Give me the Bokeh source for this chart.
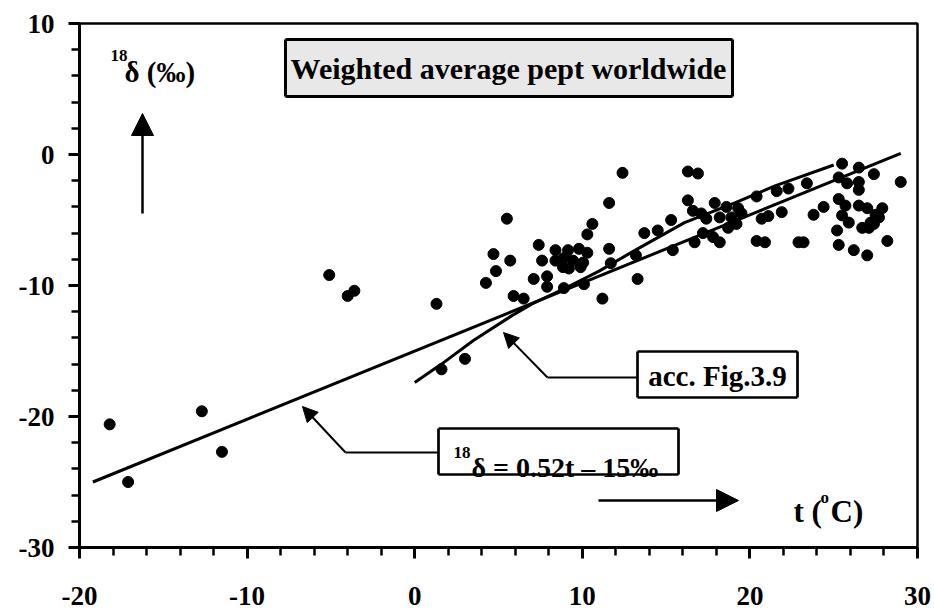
from bokeh.plotting import figure
from bokeh.models import (Range1d, SingleIntervalTicker, Label, BoxAnnotation,
                          Arrow, NormalHead, PrintfTickFormatter)
from bokeh.embed import file_html
from bokeh.resources import INLINE

# ---- data ----
temp_c = [-18.2, -17.1, -12.7, -11.5, -5.1, -4.0, -3.6, 1.3, 1.6, 3.0,
          4.7, 5.7, 4.85, 4.25, 5.5, 5.9, 6.5, 7.4, 7.6, 7.1, 7.9, 7.9,
          8.4, 9.15, 9.8, 10.3, 8.4, 8.9, 9.45, 10.05, 8.85, 9.9, 9.2,
          8.9, 10.1, 11.2, 10.6, 10.3, 11.6, 11.7, 11.6, 12.4, 13.3, 13.2,
          13.7, 14.5, 15.3, 15.4, 16.3, 16.9, 16.3, 16.6, 17.1, 17.4, 17.9,
          18.2, 18.6, 18.9, 19.3, 19.5, 19.2, 18.7, 17.8, 18.2, 16.7, 17.2,
          20.4, 20.7, 21.1, 20.4, 20.9, 21.6, 22.3, 21.9, 23.4, 23.8, 24.4,
          22.9, 23.2, 25.5, 26.5, 27.4, 29.0, 25.3, 25.8, 26.5, 26.5, 25.3,
          25.7, 25.5, 26.5, 27.0, 27.9, 27.7, 27.4, 27.1, 26.7, 25.9, 25.2,
          25.3, 26.2, 27.0, 28.2, 27.2, 27.5]
delta18 = [-20.6, -25.0, -19.6, -22.7, -9.2, -10.8, -10.4, -11.4, -16.4, -15.6,
           -7.6, -8.1, -8.9, -9.8, -4.9, -10.8, -11.0, -6.9, -8.1, -9.5, -9.3, -10.1,
           -7.3, -7.3, -7.2, -7.5, -8.1, -7.9, -8.1, -8.25, -8.6, -8.6, -8.7,
           -10.2, -9.9, -11.0, -5.3, -6.1, -7.2, -8.3, -3.7, -1.4, -9.5, -7.7,
           -6.0, -5.8, -5.0, -7.3, -1.3, -1.45, -3.5, -4.3, -4.5, -4.9, -3.7,
           -4.8, -4.0, -4.8, -4.1, -4.5, -5.3, -5.6, -6.3, -6.7, -6.7, -6.0,
           -3.2, -4.9, -4.7, -6.6, -6.7, -2.8, -2.6, -4.4, -2.2, -4.6, -4.0,
           -6.7, -6.7, -0.7, -1.0, -1.5, -2.1, -1.75, -2.2, -2.1, -2.7, -3.4,
           -3.9, -4.65, -3.9, -4.1, -4.1, -4.8, -5.3, -5.6, -5.6, -5.2, -5.8,
           -6.9, -7.3, -7.7, -6.6, -5.2, -4.6]

fit_t = [-19.2, 29.0]          # 18d = 0.52 t - 15
fit_d = [-25.0, 0.08]

fig39_t = [0.0, 1.6, 3.5, 5.8, 7.0, 9.0, 11.0, 13.3, 16.1, 19.1, 21.5, 25.0]
fig39_d = [-17.4, -16.0, -14.2, -12.3, -11.4, -10.2, -8.9, -7.2, -5.2, -3.7, -2.4, -0.8]

x_ticks_interval = 10
y_ticks_interval = 10

# ---- figure ----
W, H = 934, 611
L, R, T, B = 79, 917, 23, 547
XMIN, XMAX, YMIN, YMAX = -20, 30, -30, 10

p = figure(width=W, height=H, output_backend="svg", toolbar_location=None,
           x_range=Range1d(XMIN, XMAX), y_range=Range1d(YMIN, YMAX),
           min_border_left=L, min_border_right=W - R,
           min_border_top=T, min_border_bottom=H - B)
p.grid.visible = False
p.outline_line_color = "black"
p.outline_line_width = 2.5
p.background_fill_color = "white"
p.border_fill_color = "white"

FONT = "'Liberation Serif', 'Times New Roman', serif"

for ax, iv in ((p.xaxis[0], x_ticks_interval), (p.yaxis[0], y_ticks_interval)):
    ax.ticker = SingleIntervalTicker(interval=iv, num_minor_ticks=5)
    ax.formatter = PrintfTickFormatter(format="%d")
    ax.axis_line_width = 3
    ax.axis_line_color = "black"
    ax.major_tick_line_width = 3
    ax.minor_tick_line_width = 2.5
    ax.major_tick_in = 0
    ax.minor_tick_in = 0
    ax.major_tick_out = 11
    ax.minor_tick_out = 8
    ax.major_label_text_font = FONT
    ax.major_label_text_font_style = "bold"
    ax.major_label_text_font_size = "27px"
    ax.major_label_text_color = "black"
p.xaxis[0].major_label_standoff = 28
p.yaxis[0].major_label_standoff = 14


def dx(px):
    return XMIN + (px - L) / (R - L) * (XMAX - XMIN)


def dy(py):
    return YMAX - (py - T) / (B - T) * (YMAX - YMIN)


# ---- data marks ----
p.line(fit_t, fit_d, line_color="black", line_width=3)
p.line(fig39_t, fig39_d, line_color="black", line_width=3)
p.scatter(temp_c, delta18, size=11, marker="circle", fill_color="black",
          line_color="black")

# ---- annotations ----
def lab(px, py, text, size, align="left", baseline="alphabetic"):
    p.add_layout(Label(x=dx(px), y=dy(py), text=text, text_font=FONT,
                       text_font_style="bold", text_font_size=f"{size}px",
                       text_align=align, text_baseline=baseline,
                       text_color="black", level="overlay"))


def seg(x0, y0, x1, y1, lw, head=None):
    p.add_layout(Arrow(x_start=dx(x0), y_start=dy(y0), x_end=dx(x1), y_end=dy(y1),
                       line_width=lw, line_color="black", end=head,
                       level="overlay"))


def box(l, r, t, b, fill, lw):
    p.add_layout(BoxAnnotation(left=dx(l), right=dx(r), top=dy(t), bottom=dy(b),
                               fill_color=fill, fill_alpha=1.0,
                               line_alpha=0.0, level="underlay"))
    seg(l, t, r, t, lw)
    seg(r, t, r, b, lw)
    seg(r, b, l, b, lw)
    seg(l, b, l, t, lw)


def head(size):
    return NormalHead(size=size, fill_color="black", line_color="black")


# title box
box(285, 732, 39, 96, "#e8e8e8", 3)
lab(508, 68, "Weighted average pept worldwide", 30, "center", "middle")

# y label
lab(110, 55, "18", 17)
lab(124, 71, "δ (‰)", 29)

# up arrow
seg(142, 213, 142, 113, 2.5, head(22))

# right arrow + x label
seg(598, 500, 738, 500, 2.5, head(22))
lab(793, 511, "t (", 31)
lab(820, 497, "o", 17)
lab(830, 511, "C)", 31)

# acc. Fig.3.9 box + callout
box(637, 797, 351, 397, "white", 2.7)
lab(717, 375, "acc. Fig.3.9", 29, "center", "middle")
seg(637, 377, 547, 377, 2)
seg(547, 377, 503, 332, 2, head(15))

# equation box + callout
box(438, 678, 428, 474, "white", 2.7)
lab(453, 452, "18", 17)
lab(471, 467, "δ = 0.52t – 15‰", 28)
seg(438, 452, 345, 452, 2)
seg(345, 452, 302, 406, 2, head(15))

open("out.html", "w").write(file_html(p, INLINE))
